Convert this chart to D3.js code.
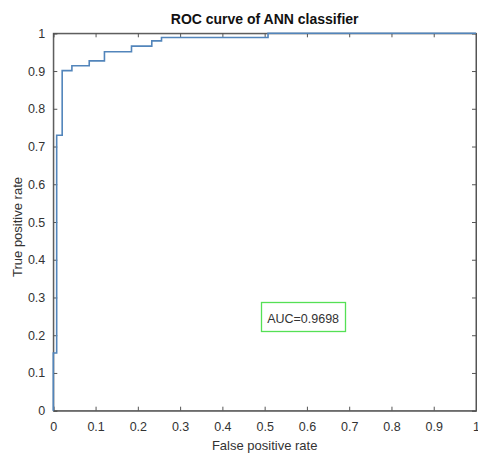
<!DOCTYPE html>
<html><head><meta charset="utf-8">
<script src="https://cdn.jsdelivr.net/npm/d3@7"></script>
<style>body{margin:0;background:#fff}svg{display:block}text{font-family:"Liberation Sans",Arial,sans-serif}</style>
</head><body>
<svg id="c" width="478" height="454"></svg>
<script>
const fpr = [0, 0, 0.008, 0.008, 0.021, 0.021, 0.044, 0.044, 0.085, 0.085, 0.121, 0.121, 0.185, 0.185, 0.233, 0.233, 0.256, 0.256, 0.508, 0.508, 1];
const tpr = [0, 0.153, 0.153, 0.730, 0.730, 0.901, 0.901, 0.914, 0.914, 0.927, 0.927, 0.951, 0.951, 0.966, 0.966, 0.980, 0.980, 0.989, 0.989, 1, 1];
const xTicks = [0,0.1,0.2,0.3,0.4,0.5,0.6,0.7,0.8,0.9,1];
const yTicks = [0,0.1,0.2,0.3,0.4,0.5,0.6,0.7,0.8,0.9,1];
const aucLabel = "AUC=0.9698";
const aucPos = [0.591, 0.245];

const svg = d3.select("#c");
const L=53.3, R=476, T=33.3, B=410.7;
const x = d3.scaleLinear().domain([0,1]).range([L,R]);
const y = d3.scaleLinear().domain([0,1]).range([B,T]);
const axCol = "#555", txtCol = "#333";
const fmt = d => d===0||d===1 ? String(d) : d.toFixed(1);

svg.append("rect").attr("x",L).attr("y",T).attr("width",R-L).attr("height",B-T)
  .attr("fill","none").attr("stroke",axCol).attr("stroke-width",1);

const gx = svg.append("g").attr("transform",`translate(0,${B})`)
  .call(d3.axisBottom(x).tickValues(xTicks).tickSize(-4).tickPadding(11).tickFormat(fmt));
const gxt = svg.append("g").attr("transform",`translate(0,${T})`)
  .call(d3.axisTop(x).tickValues(xTicks).tickSize(-4).tickFormat(""));
const gy = svg.append("g").attr("transform",`translate(${L},0)`)
  .call(d3.axisLeft(y).tickValues(yTicks).tickSize(-4).tickPadding(8).tickFormat(fmt));
const gyr = svg.append("g").attr("transform",`translate(${R},0)`)
  .call(d3.axisRight(y).tickValues(yTicks).tickSize(-4).tickFormat(""));
[gx,gxt,gy,gyr].forEach(g=>{
  g.select(".domain").attr("stroke",axCol);
  g.selectAll(".tick line").attr("stroke",axCol);
  g.selectAll("text").attr("fill",txtCol).style("font-size","12.5px");
});

const pts = fpr.map((f,i)=>[f,tpr[i]]);
svg.append("path").datum(pts)
  .attr("d", d3.line().x(d=>x(d[0])).y(d=>y(d[1])))
  .attr("fill","none").attr("stroke","#5285bb").attr("stroke-width",1.6);

svg.append("text").attr("x",(L+R)/2).attr("y",24).attr("text-anchor","middle")
  .style("font-size","14px").style("font-weight","bold").attr("fill","#111")
  .text("ROC curve of ANN classifier");
svg.append("text").attr("x",(L+R)/2).attr("y",450).attr("text-anchor","middle")
  .style("font-size","13px").attr("fill",txtCol).text("False positive rate");
svg.append("text").attr("transform",`translate(22,${(T+B)/2+5}) rotate(-90)`).attr("text-anchor","middle")
  .style("font-size","13px").attr("fill",txtCol).text("True positive rate");

svg.append("rect").attr("x",261.5).attr("y",302.5).attr("width",84).attr("height",29)
  .attr("fill","none").attr("stroke","#55e055").attr("stroke-width",1.3);
svg.append("text").attr("x",x(aucPos[0])).attr("y",y(aucPos[1])+5)
  .attr("text-anchor","middle").style("font-size","12.5px").attr("fill",txtCol).text(aucLabel);
</script>
</body></html>
